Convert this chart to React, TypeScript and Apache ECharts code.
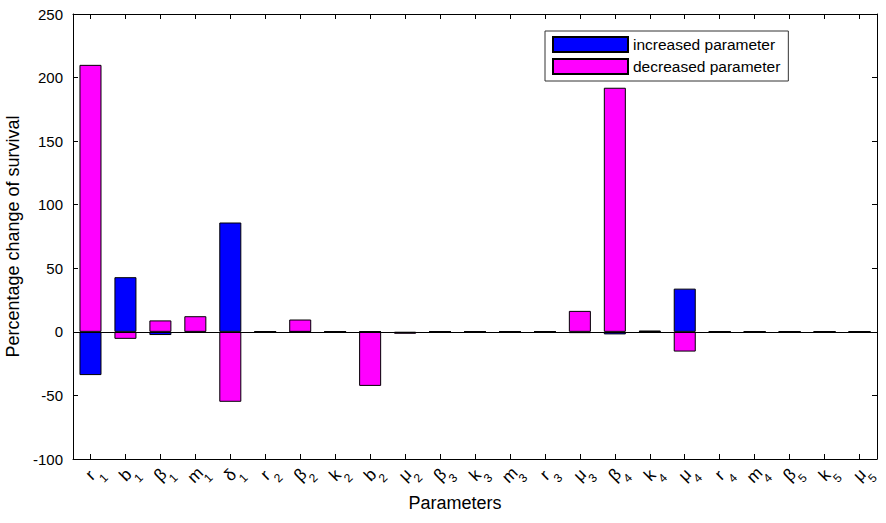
import React, { useEffect, useRef } from "react";
import * as echarts from "echarts";

const paramSymbols = ["r", "b", "β", "m", "δ", "r", "β", "k", "b", "μ", "β", "k", "m", "r", "μ", "β", "k", "μ", "r", "m", "β", "k", "μ"];
const paramIndex = ["1", "1", "1", "1", "1", "2", "2", "2", "2", "2", "3", "3", "3", "3", "3", "4", "4", "4", "4", "4", "5", "5", "5"];
const categories = paramSymbols.map((s, i) => s + paramIndex[i]);

const increased = [-34, 43, -2.5, -0.5, 86, 0.3, 0.3, 0.2, 0.3, -1, 0.2, 0.2, 0.2, 0.2, -1, -2, 1, 34, 0.2, 0.2, 0.2, 0.2, 0.2];
const decreased = [210, -5.5, 9, 12.3, -55, -0.3, 9.7, -0.2, -42.5, -1.5, -0.2, -0.2, -0.2, -0.2, 16.5, 192, 0.5, -15.5, -0.2, -0.2, -0.2, -0.2, -0.2];

const seriesNames = ["increased parameter", "decreased parameter"];
const FONT = "Liberation Sans, Arial, Helvetica, sans-serif";

export default function App() {
  const ref = useRef<HTMLDivElement>(null);
  useEffect(() => {
    if (!ref.current) return;
    const chart = echarts.init(ref.current, undefined, { renderer: "svg" });
    const valueAxisCommon = {
      type: "value",
      min: -100,
      max: 250,
      interval: 50,
      axisLine: { show: true, lineStyle: { color: "#000", width: 1 } },
      axisTick: { show: true, inside: true, length: 5, lineStyle: { color: "#000" } },
      splitLine: { show: false },
    };
    const catAxisCommon = {
      type: "category",
      data: categories,
      boundaryGap: true,
      axisLine: { show: true, onZero: false, lineStyle: { color: "#000", width: 1 } },
      axisTick: { show: true, inside: true, length: 5, alignWithLabel: true, lineStyle: { color: "#000" } },
      splitLine: { show: false },
    };
    chart.setOption({
      animation: false,
      backgroundColor: "#fff",
      textStyle: { fontFamily: FONT },
      grid: { left: 73, right: 9, top: 14, bottom: 64, containLabel: false, outerBoundsMode: "none" },
      legend: {
        orient: "vertical",
        left: 545,
        top: 31,
        data: seriesNames,
        icon: "rect",
        itemWidth: 75,
        itemHeight: 15,
        itemGap: 5,
        padding: [5, 8, 6, 7],
        borderColor: "#333",
        borderWidth: 1,
        backgroundColor: "#fff",
        textStyle: { fontSize: 15.5, lineHeight: 15, color: "#000", fontFamily: FONT },
      },
      xAxis: [
        {
          ...catAxisCommon,
          position: "bottom",
          name: "Parameters",
          nameLocation: "middle",
          nameGap: 35,
          nameTextStyle: { fontSize: 18, color: "#000", fontFamily: FONT, padding: [0, 40, 0, 0] },
          axisLabel: { show: false },
        },
        {
          ...catAxisCommon,
          position: "top",
          axisLabel: { show: false },
        },
      ],
      yAxis: [
        {
          ...valueAxisCommon,
          position: "left",
          name: "Percentage change of survival",
          nameLocation: "middle",
          nameGap: 49,
          nameTextStyle: { fontSize: 18, color: "#000", fontFamily: FONT },
          axisLabel: { show: true, color: "#000", fontSize: 15, margin: 10, fontFamily: FONT },
        },
        {
          ...valueAxisCommon,
          position: "right",
          axisLabel: { show: false },
        },
      ],
      series: [
        {
          name: seriesNames[0],
          type: "bar",
          data: increased,
          barWidth: "63%",
          barGap: "-100%",
          itemStyle: { color: "#0000ff", borderColor: "#000", borderWidth: 1 },
          z: 2,
        },
        {
          name: seriesNames[1],
          type: "bar",
          data: decreased,
          barWidth: "63%",
          barGap: "-100%",
          itemStyle: { color: "#ff00ff", borderColor: "#000", borderWidth: 1 },
          z: 3,
          markLine: {
            silent: true,
            symbol: "none",
            label: { show: false },
            lineStyle: { color: "#000", width: 1, type: "solid" },
            data: [{ yAxis: 0 }],
            z: 5,
          },
        },
      ],
    });

    // Tick labels: each glyph rotated 45° (as in the reference), laid out along the axis
    const yLab = chart.convertToPixel({ yAxisIndex: 0 }, -100) as number;
    const rot = Math.PI / 4;
    const labels: any[] = [];
    categories.forEach((_c, i) => {
      const x = chart.convertToPixel({ xAxisIndex: 0 }, i) as number;
      labels.push({
        type: "text",
        x: x,
        y: yLab + 16,
        rotation: rot,
        silent: true,
        style: { text: paramSymbols[i], fill: "#000", font: `17px ${FONT}`, align: "center", verticalAlign: "middle" },
      });
      labels.push({
        type: "text",
        x: x + 13,
        y: yLab + 19,
        rotation: rot,
        silent: true,
        style: { text: paramIndex[i], fill: "#000", font: `12px ${FONT}`, align: "center", verticalAlign: "middle" },
      });
    });
    chart.setOption({ graphic: labels });

    return () => chart.dispose();
  }, []);
  return <div ref={ref} style={{ position: "absolute", left: 0, top: 0, width: 886, height: 523 }} />;
}
